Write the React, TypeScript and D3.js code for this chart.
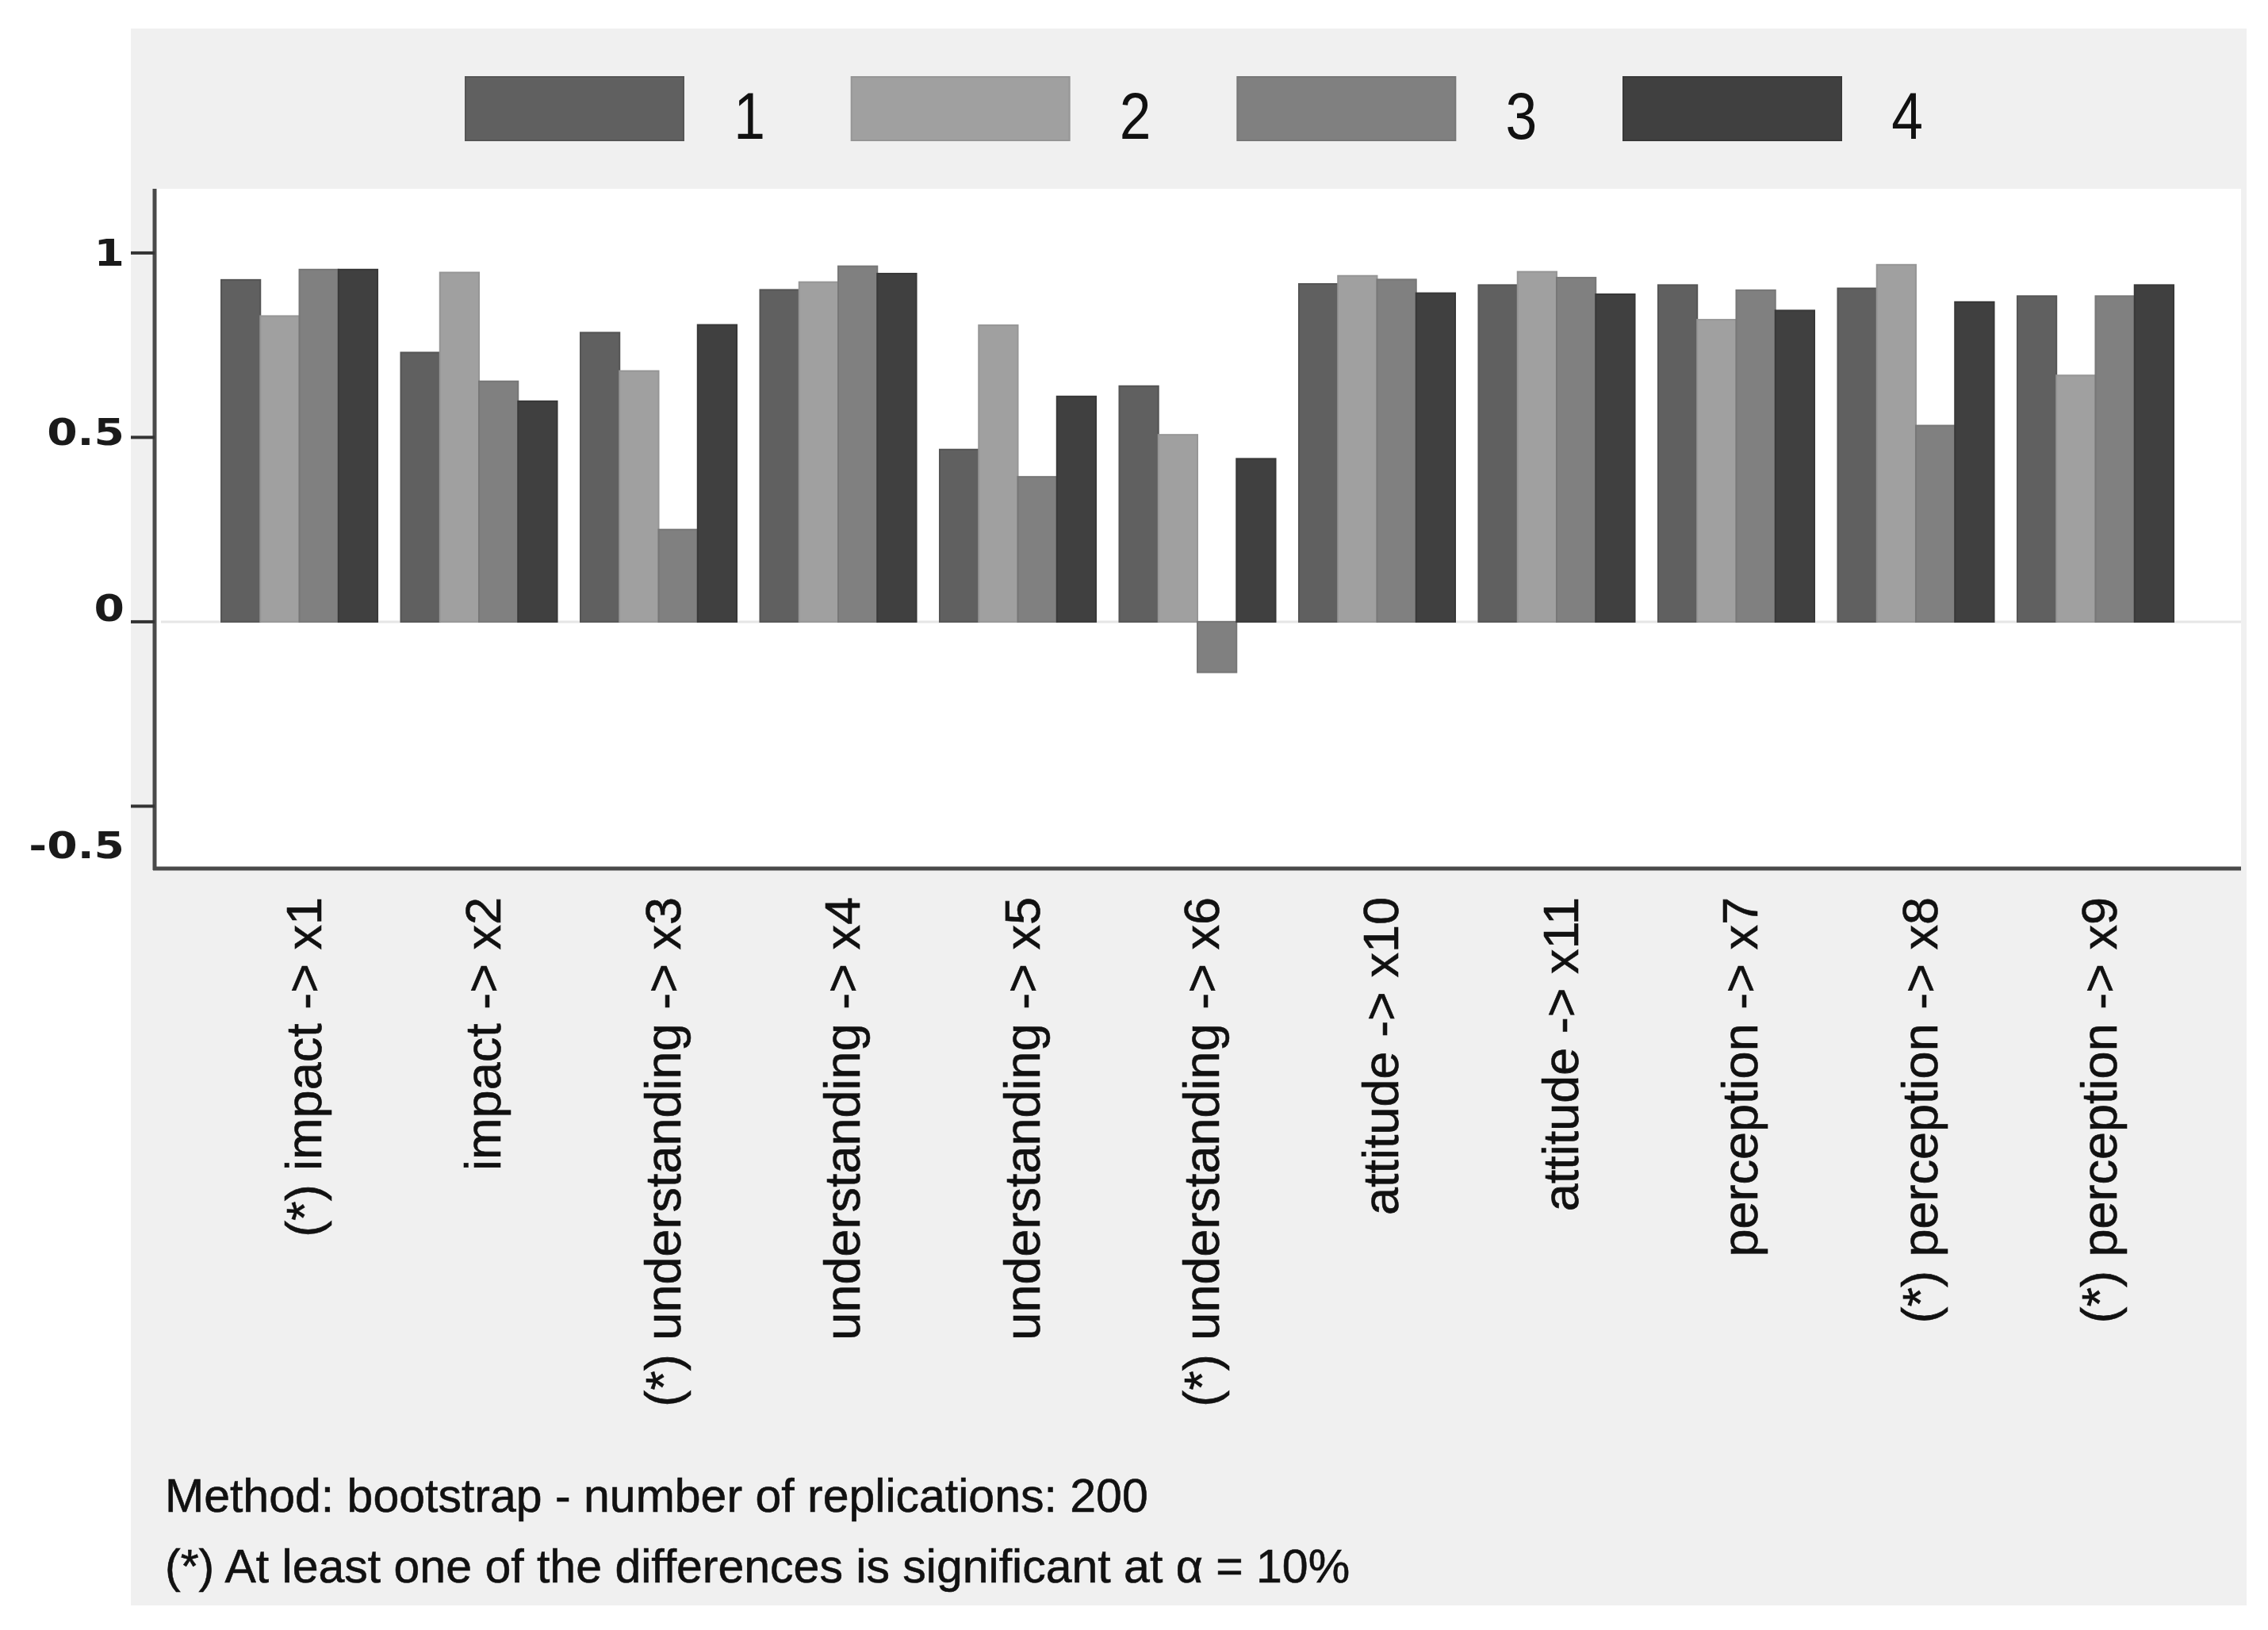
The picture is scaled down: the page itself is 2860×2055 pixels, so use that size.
import * as d3 from 'd3';

const categories = [
  '(*) impact -> x1',
  'impact -> x2',
  '(*) understanding -> x3',
  'understanding -> x4',
  'understanding -> x5',
  '(*) understanding -> x6',
  'attitude -> x10',
  'attitude -> x11',
  'perception -> x7',
  '(*) perception -> x8',
  '(*) perception -> x9',
];

const seriesNames = ['1', '2', '3', '4'];

const group1 = [0.927, 0.73, 0.784, 0.9, 0.467, 0.639, 0.916, 0.913, 0.913, 0.904, 0.883];
const group2 = [0.829, 0.947, 0.68, 0.921, 0.804, 0.507, 0.938, 0.949, 0.819, 0.968, 0.668];
const group3 = [0.955, 0.652, 0.25, 0.964, 0.393, -0.137, 0.928, 0.933, 0.899, 0.532, 0.883];
const group4 = [0.955, 0.598, 0.805, 0.944, 0.611, 0.442, 0.891, 0.888, 0.844, 0.867, 0.913];

const seriesValues = [group1, group2, group3, group4];
const seriesColors = ['#606060', '#a0a0a0', '#808080', '#404040'];
const seriesStroke = ['#555555', '#969696', '#777777', '#383838'];

const yTicks = [1, 0.5, 0, -0.5];
const yTickLabels = ['1', '0.5', '0', '-0.5'];

const footnotes = [
  'Method: bootstrap - number of replications: 200',
  '(*) At least one of the differences is significant at α = 10%',
];

const W = 2860;
const H = 2055;

// panel + plot box
const panel = { x0: 165, x1: 2833, y0: 36, y1: 2024 };
const plot = { x0: 195, x1: 2826, y0: 238, y1: 1095 };

export default function App() {
  const x = d3.scaleBand<string>().domain(categories).range([279, 2741]).paddingInner(0.13);
  const xs = d3.scaleBand<string>().domain(seriesNames).range([0, x.bandwidth()]);
  const y = d3.scaleLinear().domain([-0.669, 1.174]).range([plot.y1, plot.y0]);
  const legendX = d3.scaleLinear().domain([0, 3]).range([587, 2047]);

  // small nudges so tick labels sit where the original put them
  const labelNudge = [0, -7, -17, 49];

  return (
    <div style={{ position: 'absolute', left: 0, top: 0 }}>
      <svg width={W} height={H} style={{ display: 'block' }}>
        <rect x={0} y={0} width={W} height={H} fill="#ffffff" />
        <rect
          x={panel.x0}
          y={panel.y0}
          width={panel.x1 - panel.x0}
          height={panel.y1 - panel.y0}
          fill="#f0f0f0"
        />
        <rect
          x={plot.x0}
          y={plot.y0}
          width={plot.x1 - plot.x0}
          height={plot.y1 - plot.y0}
          fill="#ffffff"
        />

        {/* legend */}
        {seriesNames.map((s, i) => (
          <g key={s}>
            <rect
              x={legendX(i)}
              y={97}
              width={275}
              height={80}
              fill={seriesColors[i]}
              stroke={seriesStroke[i]}
              strokeWidth={2}
            />
            <text
              transform={`translate(${legendX(i) + 275 + 83},175) scale(0.85,1)`}
              textAnchor="middle"
              fontFamily="Liberation Sans, Arial, sans-serif"
              fontSize={84}
              fill="#111"
            >
              {s}
            </text>
          </g>
        ))}

        {/* zero line */}
        <line
          x1={plot.x0 + 8}
          x2={plot.x1}
          y1={y(0)}
          y2={y(0)}
          stroke="#e6e6e6"
          strokeWidth={3}
        />

        {/* bars */}
        {categories.map((c, ci) => (
          <g key={c} transform={`translate(${x(c)},0)`}>
            {seriesNames.map((s, si) => {
              const v = seriesValues[si][ci];
              const top = y(Math.max(0, v));
              const bottom = y(Math.min(0, v));
              return (
                <rect
                  key={s}
                  x={xs(s)}
                  y={top}
                  width={xs.bandwidth()}
                  height={bottom - top}
                  fill={seriesColors[si]}
                  stroke={seriesStroke[si]}
                  strokeWidth={2}
                />
              );
            })}
          </g>
        ))}

        {/* y axis */}
        <line x1={plot.x0} x2={plot.x0} y1={plot.y0} y2={plot.y1 + 2} stroke="#4a4a4a" strokeWidth={5} />
        {yTicks.map((t, i) => (
          <g key={t}>
            <line x1={plot.x0 - 30} x2={plot.x0} y1={y(t)} y2={y(t)} stroke="#333" strokeWidth={4} />
            <text
              transform={`translate(157,${y(t) + labelNudge[i]}) scale(1.2,1)`}
              dy="0.36em"
              textAnchor="end"
              fontFamily="DejaVu Sans, sans-serif"
              fontWeight="bold"
              fontSize={46}
              fill="#1a1a1a"
            >
              {yTickLabels[i]}
            </text>
          </g>
        ))}

        {/* x axis */}
        <line x1={plot.x0 - 2} x2={plot.x1} y1={plot.y1} y2={plot.y1} stroke="#4a4a4a" strokeWidth={5} />
        {categories.map((c) => (
          <text
            key={c}
            transform={`translate(${(x(c) ?? 0) + x.bandwidth() / 2 + 27},1131) rotate(-90)`}
            textAnchor="end"
            fontFamily="Liberation Sans, Arial, sans-serif"
            fontSize={63}
            stroke="#111"
            strokeWidth={0.6}
            fill="#111"
          >
            {c}
          </text>
        ))}

        {/* notes */}
        {footnotes.map((n, i) => (
          <text
            key={n}
            x={208}
            y={1906 + i * 89}
            fontFamily="Liberation Sans, Arial, sans-serif"
            fontSize={59}
            stroke="#111"
            strokeWidth={0.6}
            fill="#111"
          >
            {n}
          </text>
        ))}
      </svg>
    </div>
  );
}
